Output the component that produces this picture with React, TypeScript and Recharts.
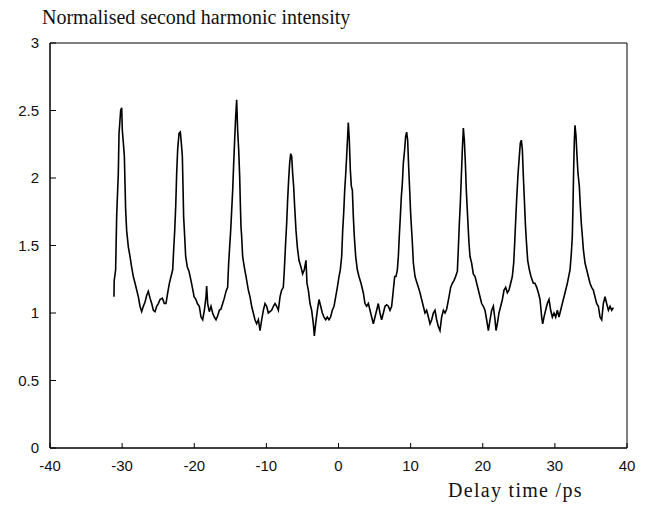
import React from "react";
import { Line, LineChart, ReferenceArea, XAxis, YAxis } from "recharts";

// Delay time (ps) and normalised SH intensity
const delay = [
  -31.13, -31.1, -30.9, -30.76, -30.62, -30.53, -30.43, -30.2, -30.06, -29.97, -29.83, -29.69, -29.6, -29.51,
  -29.37, -29.14, -28.91, -28.68, -28.45, -28.21, -27.98, -27.75, -27.52, -27.29, -27.06, -26.83, -26.6, -26.37,
  -26.13, -25.9, -25.67, -25.44, -25.21, -24.98, -24.75, -24.42, -24.15, -23.92, -23.68, -23.45, -23.22, -22.99,
  -22.85, -22.71, -22.57, -22.44, -22.3, -22.11, -21.93, -21.79, -21.65, -21.56, -21.47, -21.33, -21.19, -20.96,
  -20.73, -20.45, -20.12, -20.03, -19.76, -19.57, -19.3, -19.06, -18.83, -18.6, -18.37, -18.28, -18.14, -17.91,
  -17.68, -17.45, -17.22, -16.98, -16.75, -16.52, -16.29, -16.06, -15.83, -15.6, -15.37, -15.23, -15.09, -14.95,
  -14.81, -14.67, -14.53, -14.4, -14.26, -14.12, -13.98, -13.84, -13.7, -13.61, -13.52, -13.43, -13.29, -13.06,
  -12.82, -12.5, -12.27, -12.04, -11.81, -11.58, -11.35, -11.11, -10.88, -10.65, -10.42, -10.19, -9.96, -9.73,
  -9.5, -9.27, -9.03, -8.8, -8.57, -8.34, -8.11, -7.88, -7.65, -7.51, -7.33, -7.19, -7.05, -6.91, -6.77, -6.63,
  -6.49, -6.35, -6.22, -6.08, -5.89, -5.71, -5.48, -5.2, -4.97, -4.74, -4.51, -4.37, -4.18, -3.95, -3.72, -3.49,
  -3.35, -3.17, -2.93, -2.7, -2.47, -2.24, -2.01, -1.78, -1.55, -1.32, -1.09, -0.86, -0.62, -0.39, -0.16, 0.07,
  0.25, 0.44, 0.58, 0.72, 0.86, 1.0, 1.13, 1.27, 1.36, 1.5, 1.64, 1.78, 1.92, 2.06, 2.19, 2.38, 2.61, 2.84, 3.12,
  3.44, 3.67, 3.9, 4.14, 4.37, 4.6, 4.83, 5.06, 5.29, 5.52, 5.75, 5.98, 6.22, 6.45, 6.68, 6.91, 7.14, 7.37, 7.6,
  7.79, 7.97, 8.16, 8.3, 8.43, 8.57, 8.71, 8.85, 8.99, 9.17, 9.31, 9.45, 9.59, 9.73, 9.87, 10.0, 10.14, 10.24,
  10.38, 10.61, 10.84, 11.07, 11.3, 11.53, 11.76, 11.99, 12.22, 12.46, 12.69, 12.92, 13.15, 13.38, 13.61, 13.84,
  14.07, 14.3, 14.54, 14.77, 15.0, 15.32, 15.55, 15.78, 16.01, 16.24, 16.48, 16.61, 16.75, 16.89, 17.03, 17.17,
  17.31, 17.45, 17.59, 17.72, 17.86, 18.0, 18.09, 18.23, 18.46, 18.69, 18.93, 19.16, 19.39, 19.62, 19.85, 20.08,
  20.31, 20.54, 20.78, 21.01, 21.24, 21.47, 21.7, 21.84, 22.02, 22.25, 22.49, 22.72, 22.95, 23.18, 23.41, 23.64,
  23.87, 24.1, 24.29, 24.43, 24.57, 24.7, 24.89, 25.07, 25.21, 25.35, 25.49, 25.63, 25.77, 25.91, 26.04, 26.23,
  26.46, 26.69, 27.01, 27.24, 27.48, 27.71, 27.94, 28.17, 28.31, 28.49, 28.72, 28.95, 29.19, 29.42, 29.65, 29.88,
  30.11, 30.34, 30.57, 30.8, 31.03, 31.27, 31.5, 31.73, 31.91, 32.1, 32.28, 32.42, 32.51, 32.61, 32.7, 32.79,
  32.93, 33.07, 33.21, 33.39, 33.53, 33.67, 33.81, 33.95, 34.18, 34.41, 34.64, 34.87, 35.1, 35.33, 35.56, 35.79,
  36.03, 36.26, 36.49, 36.72, 36.95, 37.18, 37.42, 37.65, 37.88, 38.11,
];

const intensity = [
  1.12, 1.24, 1.32, 1.71, 1.91, 2.03, 2.33, 2.5, 2.52, 2.35, 2.26, 2.16, 1.96, 1.76,
  1.61, 1.49, 1.42, 1.34, 1.27, 1.22, 1.17, 1.12, 1.05, 1.01, 1.05, 1.08, 1.13, 1.16,
  1.11, 1.07, 1.02, 1.01, 1.05, 1.07, 1.1, 1.11, 1.07, 1.07, 1.15, 1.22, 1.27, 1.32,
  1.47, 1.61, 1.79, 2.03, 2.21, 2.33, 2.34, 2.26, 2.16, 1.94, 1.71, 1.57, 1.42, 1.34,
  1.31, 1.24, 1.15, 1.12, 1.1, 1.07, 1.05, 0.97, 0.95, 1.02, 1.12, 1.2, 1.07, 1.01,
  1.05, 1.0, 0.97, 0.95, 0.98, 1.02, 1.03, 1.07, 1.11, 1.16, 1.19, 1.37, 1.49, 1.61,
  1.76, 1.91, 2.11, 2.28, 2.45, 2.58, 2.35, 2.21, 2.01, 1.81, 1.64, 1.57, 1.42, 1.34,
  1.27, 1.17, 1.12, 1.05, 1.0, 0.95, 0.92, 0.95, 0.87, 0.95, 1.02, 1.07, 1.05, 1.0,
  1.01, 1.02, 1.05, 1.07, 1.05, 1.02, 1.12, 1.17, 1.19, 1.32, 1.52, 1.66, 1.84, 1.99, 2.11, 2.18,
  2.16, 2.03, 1.94, 1.79, 1.61, 1.49, 1.39, 1.34, 1.29, 1.32, 1.39, 1.22, 1.17, 1.07, 1.02, 0.92,
  0.83, 0.92, 1.02, 1.1, 1.05, 1.0, 0.97, 0.95, 0.97, 0.95, 0.97, 1.02, 1.05, 1.12, 1.19, 1.27,
  1.32, 1.42, 1.61, 1.74, 1.91, 2.03, 2.16, 2.31, 2.41, 2.28, 2.06, 1.94, 1.91, 1.71, 1.57, 1.42, 1.32, 1.27, 1.22,
  1.15, 1.07, 1.05, 1.07, 1.02, 0.97, 0.92, 0.97, 1.02, 1.07, 1.0, 0.95, 1.0, 1.05, 1.06, 1.05, 1.02, 1.05, 1.17,
  1.27, 1.27, 1.32, 1.42, 1.57, 1.71, 1.86, 1.96, 2.11, 2.21, 2.31, 2.34, 2.28, 2.08, 1.91, 1.74, 1.61, 1.52,
  1.37, 1.27, 1.23, 1.19, 1.15, 1.1, 1.05, 1.0, 1.02, 0.97, 0.92, 0.95, 1.0, 1.02, 0.95, 0.9,
  0.87, 0.97, 1.02, 1.0, 1.03, 1.12, 1.19, 1.22, 1.24, 1.27, 1.31, 1.47, 1.66, 1.81, 2.01, 2.21,
  2.37, 2.28, 2.11, 1.91, 1.76, 1.61, 1.52, 1.42, 1.37, 1.29, 1.27, 1.22, 1.17, 1.12, 1.07, 1.05,
  1.02, 0.95, 0.87, 0.95, 1.02, 1.05, 0.95, 0.87, 0.92, 1.0, 1.05, 1.1, 1.17, 1.19, 1.15, 1.17,
  1.22, 1.27, 1.37, 1.52, 1.69, 1.84, 2.03, 2.16, 2.26, 2.28, 2.21, 2.01, 1.84, 1.66, 1.54, 1.39,
  1.32, 1.27, 1.22, 1.22, 1.19, 1.15, 1.1, 0.97, 0.92, 0.97, 1.02, 1.07, 1.1, 1.02, 0.97, 1.0,
  0.97, 1.02, 0.97, 1.02, 1.07, 1.12, 1.17, 1.22, 1.27, 1.32, 1.44, 1.57, 1.79, 2.08, 2.28, 2.39,
  2.31, 2.16, 2.03, 1.94, 1.79, 1.66, 1.57, 1.47, 1.37, 1.32, 1.27, 1.22, 1.19, 1.17, 1.12, 1.07,
  1.05, 0.97, 0.95, 1.07, 1.12, 1.07, 1.02, 1.05, 1.02, 1.04,
];

const xTicks = [-40, -30, -20, -10, 0, 10, 20, 30, 40];
const yTicks = [0, 0.5, 1, 1.5, 2, 2.5, 3];

const chartData = delay.map((d, i) => ({ delay: d, intensity: intensity[i] }));

const tickFont = "'Liberation Sans', Arial, sans-serif";
const labelFont = "'Liberation Serif', 'Times New Roman', serif";

function XTick(props: any) {
  const { x, y, payload } = props;
  return (
    <g>
      <line x1={x} x2={x} y1={y} y2={y - 5} stroke="#000" />
      <text x={x} y={y + 23} textAnchor="middle" fontFamily={tickFont} fontSize={15} fill="#111">
        {payload.value}
      </text>
    </g>
  );
}

function YTick(props: any) {
  const { x, y, payload } = props;
  return (
    <g>
      <line x1={x} x2={x + 6} y1={y} y2={y} stroke="#000" />
      <text x={x - 11} y={y + 5} textAnchor="end" fontFamily={tickFont} fontSize={15} fill="#111">
        {payload.value}
      </text>
    </g>
  );
}

export default function App() {
  return (
    <div style={{ position: "absolute", left: 0, top: 0, width: 665, height: 505, background: "#fff" }}>
      <div
        style={{
          position: "absolute",
          left: 42,
          top: 6,
          fontFamily: labelFont,
          fontSize: 20,
          color: "#111",
          whiteSpace: "nowrap",
        }}
      >
        Normalised second harmonic intensity
      </div>
      <div
        style={{
          position: "absolute",
          left: 448,
          top: 479,
          fontFamily: labelFont,
          fontSize: 20,
          letterSpacing: 1.3,
          color: "#111",
          whiteSpace: "nowrap",
        }}
      >
        Delay time /ps
      </div>
      <LineChart
        width={665}
        height={505}
        data={chartData}
        margin={{ top: 43, right: 38, bottom: 27, left: 10 }}
      >
        <XAxis
          type="number"
          dataKey="delay"
          domain={[-40, 40]}
          ticks={xTicks}
          allowDataOverflow
          height={30}
          stroke="#000"
          tickLine={false}
          tickSize={0}
          tickMargin={0}
          tick={<XTick />}
        />
        <YAxis
          type="number"
          domain={[0, 3]}
          ticks={yTicks}
          allowDataOverflow
          width={40}
          stroke="#000"
          tickLine={false}
          tickSize={0}
          tickMargin={0}
          tick={<YTick />}
        />
        <ReferenceArea x1={-40} x2={40} y1={0} y2={3} fill="none" stroke="#000" strokeWidth={1} />
        <Line
          type="linear"
          dataKey="intensity"
          stroke="#000"
          strokeWidth={1.6}
          dot={false}
          isAnimationActive={false}
        />
      </LineChart>
    </div>
  );
}
